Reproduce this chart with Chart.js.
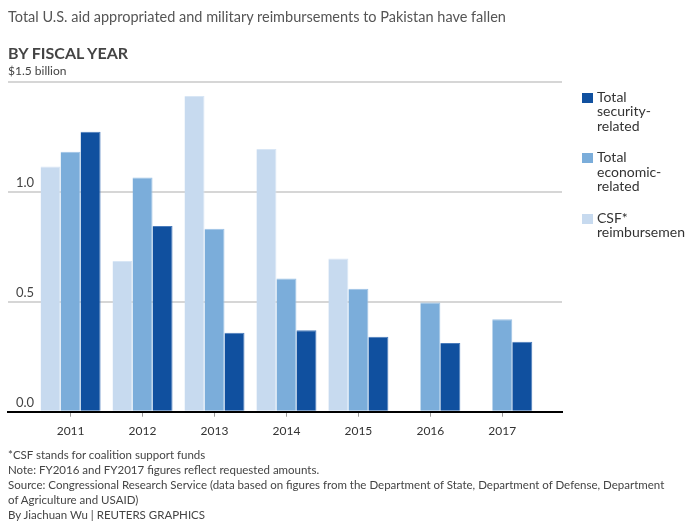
<!DOCTYPE html>
<html>
<head>
<meta charset="utf-8">
<script src="https://cdn.jsdelivr.net/npm/chart.js@4.4.1/dist/chart.umd.min.js"></script>
<style>
  html, body { margin: 0; padding: 0; background: #fff; }
  body { width: 697px; height: 529px; position: relative; overflow: hidden; font-family: Lato, sans-serif; }
  #wrap { position: absolute; left: 0; top: 0; width: 697px; height: 529px; }
  .txt { position: absolute; left: 8px; white-space: nowrap; }
  #titulo { top: 8.4px; font-size: 14.5px; line-height: 1.2; color: #555; }
  #sub { top: 42.5px; font-size: 16px; line-height: 1.2; font-weight: bold; color: #444; }
  #unidade { top: 64.2px; font-size: 12px; line-height: 1.2; color: #444; }
  #notas { position: absolute; left: 8px; top: 446.5px; width: 664px; font-size: 11.5px; line-height: 15px; color: #444; }
  #legenda { position: absolute; left: 582px; top: 89.5px; width: 103px; overflow: hidden; }
  .item { position: relative; padding-left: 15px; margin-bottom: 17px; font-size: 14px; line-height: 14.5px; color: #333; width: 75px; white-space: normal; }
  .item span.cor { position: absolute; left: 0; top: 3px; width: 11px; height: 10px; }
</style>
</head>
<body>
<div id="wrap"><canvas id="grafico_ajuda"></canvas></div>
<div class="txt" id="titulo">Total U.S. aid appropriated and military reimbursements to Pakistan have fallen</div>
<div class="txt" id="sub">BY FISCAL YEAR</div>
<div class="txt" id="unidade">$1.5 billion</div>
<div id="legenda"></div>
<div id="notas">
  *CSF stands for coalition support funds<br>
  Note: FY2016 and FY2017 figures reflect requested amounts.<br>
  Source: Congressional Research Service (data based on figures from the Department of State, Department of Defense, Department of Agriculture and USAID)<br>
  By Jiachuan Wu | REUTERS GRAPHICS
</div>
<script>
/* dados, em bilhões de dólares */
const anos = [2011, 2012, 2013, 2014, 2015, 2016, 2017];
const csf_reembolsos = [1.115, 0.686, 1.436, 1.195, 0.697, null, null];
const total_economico = [1.183, 1.065, 0.832, 0.606, 0.559, 0.497, 0.421];
const total_seguranca = [1.274, 0.845, 0.359, 0.370, 0.341, 0.313, 0.318];
const ticks_y = [0, 0.5, 1.0, 1.5];

const cor_escura = '#10509f';
const cor_media = '#7badda';
const cor_clara = '#c7daef';

function pontos(valores) {
    return anos.map((ano, i) => ({ x: ano, y: valores[i] }));
}

const data_ajuda = {
    datasets: [{
        label: 'CSF* reimbursements',
        data: pontos(csf_reembolsos),
        backgroundColor: cor_clara,
        borderColor: '#d8e6f5'
    },
    {
        label: 'Total economic-related',
        data: pontos(total_economico),
        backgroundColor: cor_media,
        borderColor: '#9cc2e5'
    },
    {
        label: 'Total security-related',
        data: pontos(total_seguranca),
        backgroundColor: cor_escura,
        borderColor: '#4a7cbc'
    }]
};

const config_ajuda = {
    type: 'bar',
    data: data_ajuda,
    options: {
        responsive: true,
        maintainAspectRatio: false,
        animation: false,
        categoryPercentage: 0.834,
        barPercentage: 1,
        borderWidth: { top: 1, right: 1, left: 0, bottom: 0 },
        layout: { padding: { left: 8, right: 135, top: 82, bottom: 0 } },
        plugins: { legend: { display: false }, tooltip: { enabled: false } },
        scales: {
            x: {
                type: 'linear',
                offset: false,
                min: 2010.13,
                max: 2017.83,
                afterBuildTicks: s => { s.ticks = anos.map(a => ({ value: a })); },
                afterFit: s => { s.height = 117.3; },
                grid: { offset: false, drawOnChartArea: false, drawTicks: true, tickLength: 5, color: '#999', tickWidth: 1 },
                border: { display: true, color: '#000', width: 2, z: 1 },
                ticks: {
                    padding: 7,
                    color: '#333',
                    font: { family: 'Lato', size: 12 },
                    callback: v => String(v)
                }
            },
            y: {
                min: 0,
                max: 1.5,
                afterBuildTicks: s => { s.ticks = ticks_y.map(v => ({ value: v })); },
                afterFit: s => { s.width = 0; },
                grid: {
                    drawTicks: false,
                    lineWidth: 2,
                    color: c => c.tick && c.tick.value === 0 ? 'rgba(0,0,0,0)' : '#d6d6d6'
                },
                border: { display: false },
                ticks: {
                    mirror: true,
                    padding: 8,
                    labelOffset: -9,
                    color: '#444',
                    font: { family: 'Lato', size: 13 },
                    callback: v => v === 1.5 ? '' : v.toFixed(1)
                }
            }
        }
    }
};

const grafico_ajuda = new Chart(
    document.getElementById('grafico_ajuda'),
    config_ajuda
);

/* legenda em html, na ordem inversa (escuro primeiro) */
const legenda = document.getElementById('legenda');
data_ajuda.datasets.slice().reverse().forEach(ds => {
    const item = document.createElement('div');
    item.className = 'item';
    const cor = document.createElement('span');
    cor.className = 'cor';
    cor.style.background = ds.backgroundColor;
    const rotulo = document.createElement('span');
    rotulo.textContent = ds.label;
    item.appendChild(cor);
    item.appendChild(rotulo);
    legenda.appendChild(item);
});
</script>
</body>
</html>
